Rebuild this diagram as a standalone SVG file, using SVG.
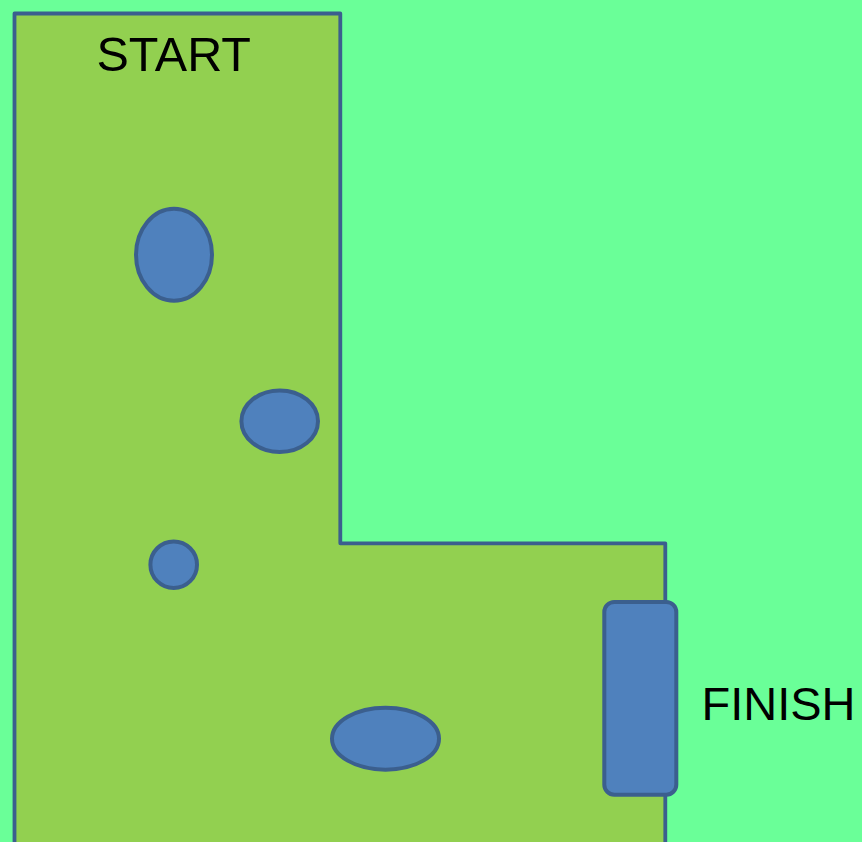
<svg xmlns="http://www.w3.org/2000/svg" width="862" height="842" viewBox="0 0 862 842">
<style>
.hole{fill:#4f81bd;stroke:#3b5f8e;stroke-width:4}
.lbl{font-family:"Liberation Sans",Arial,sans-serif;font-size:47px;fill:#000}
</style>
<rect width="862" height="842" fill="#6aff98"/>
<g id="course">
<path d="M14.5,860 L14.5,13.5 L340.3,13.5 L340.3,543.3 L665.3,543.3 L665.3,860" fill="#92d050" stroke="#3b5f8e" stroke-width="3.8" stroke-linejoin="round"/>
</g>
<g id="hole1"><ellipse class="hole" cx="174" cy="254.7" rx="38" ry="46"/></g>
<g id="hole2"><ellipse class="hole" cx="279.7" cy="421.2" rx="38.3" ry="30.8"/></g>
<g id="hole3"><circle class="hole" cx="173.7" cy="564.7" r="23.3"/></g>
<g id="hole4"><ellipse class="hole" cx="385.5" cy="738.7" rx="53.5" ry="31"/></g>
<g id="finish-gate"><rect class="hole" x="604.3" y="602" width="72" height="192.7" rx="10"/></g>
<g id="start-label"><text class="lbl" x="173.7" y="71" text-anchor="middle" style="font-size:48.5px">START</text></g>
<g id="finish-label"><text class="lbl" x="778.5" y="720" text-anchor="middle">FINISH</text></g>
</svg>
